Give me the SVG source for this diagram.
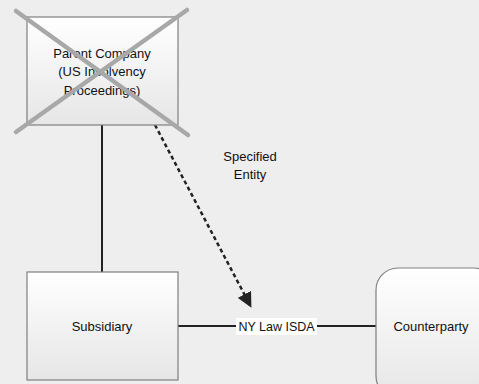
<svg xmlns="http://www.w3.org/2000/svg" width="479" height="384" viewBox="0 0 479 384">
<defs>
<linearGradient id="g" x1="0" y1="0" x2="0" y2="1">
<stop offset="0" stop-color="#ffffff"/>
<stop offset="1" stop-color="#e6e6e6"/>
</linearGradient>
<marker id="ah" viewBox="0 0 10 10" refX="8" refY="5" markerWidth="6" markerHeight="6" orient="auto" markerUnits="strokeWidth">
<path d="M0,0 L10,5 L0,10 z" fill="#222"/>
</marker>
<style>
.box{fill:url(#g);stroke:#7f7f7f;stroke-width:1.2}
.t{font-family:"Liberation Sans",Arial,sans-serif;font-size:13px;fill:#111;text-anchor:middle}
.ln{stroke:#222;stroke-width:2;fill:none}
.x{stroke:#a8a8a8;stroke-width:4.5;stroke-linecap:round}
</style>
</defs>
<rect width="479" height="384" fill="#eeeeee"/>
<g id="connectors">
<line class="ln" x1="102" y1="125" x2="102" y2="272"/>
<line class="ln" x1="178" y1="326" x2="376" y2="326"/>
<line x1="155" y1="125" x2="250" y2="305" stroke="#222" stroke-width="2.5" stroke-dasharray="4,3" marker-end="url(#ah)"/>
<rect x="236" y="318" width="81" height="17" fill="#ffffff"/>
<text class="t" x="276.5" y="331" style="font-size:12.5px">NY Law ISDA</text>
<text class="t" x="250" y="161">Specified</text>
<text class="t" x="250" y="179">Entity</text>
</g>
<g id="parent">
<rect class="box" x="27" y="17" width="151" height="108"/>
<text class="t" x="102" y="58">Parent Company</text>
<text class="t" x="102" y="76">(US Insolvency</text>
<text class="t" x="102" y="95">Proceedings)</text>
<line class="x" x1="16" y1="11" x2="188" y2="135"/>
<line class="x" x1="187" y1="10" x2="16" y2="132"/>
</g>
<g id="subsidiary">
<rect class="box" x="27" y="272" width="151" height="108"/>
<text class="t" x="102" y="331">Subsidiary</text>
</g>
<g id="counterparty">
<rect class="box" x="376" y="268" width="120" height="130" rx="22" ry="22"/>
<text class="t" x="431" y="331">Counterparty</text>
</g>
</svg>
